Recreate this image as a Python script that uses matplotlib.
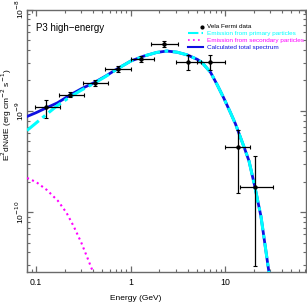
import numpy as np
import matplotlib
matplotlib.use("Agg")
import matplotlib.pyplot as plt
from matplotlib.lines import Line2D

plt.rcParams["font.family"] = ["Liberation Sans", "DejaVu Sans"]

# Vela Fermi data points (GeV, erg cm^-2 s^-1)
data_e = [0.128, 0.23, 0.418, 0.73, 1.29, 2.27, 4.05, 6.97, 13.6, 20.6]
data_lo_e = [0.098, 0.174, 0.31, 0.54, 1.0, 1.64, 3.0, 5.0, 9.9, 14.4]
data_hi_e = [0.178, 0.319, 0.575, 1.0, 1.78, 3.16, 5.6, 10.0, 18.2, 32.2]
data_f = [1.08e-9, 1.45e-9, 1.87e-9, 2.6e-9, 3.23e-9, 4.55e-9, 3.05e-9, 3.05e-9, 4.4e-10, 1.77e-10]
data_lo_f = [8.5e-10, 1.36e-9, 1.75e-9, 2.4e-9, 3.03e-9, 4.24e-9, 2.55e-9, 2.55e-9, 1.55e-10, 2.9e-11]
data_hi_f = [1.28e-9, 1.54e-9, 2.0e-9, 2.8e-9, 3.45e-9, 4.87e-9, 3.6e-9, 3.6e-9, 6.5e-10, 3.55e-10]

# model curves
total_e = [0.08, 0.1, 0.128, 0.168, 0.23, 0.3, 0.41, 0.55, 0.72, 1.0, 1.37, 1.89, 2.42,
           3.1, 3.98, 5.1, 5.74, 7.02, 8.27, 9.71, 11.4, 12.9, 14.3, 16.0, 17.9, 20.6,
           24.0, 29.1]
total_f = [8.8e-10, 9.6e-10, 1.07e-9, 1.2e-9, 1.44e-9, 1.65e-9, 1.9e-9, 2.22e-9, 2.6e-9,
           3.1e-9, 3.47e-9, 3.78e-9, 3.9e-9, 3.8e-9, 3.57e-9, 3.22e-9, 2.98e-9, 2.4e-9,
           1.8e-9, 1.33e-9, 9.6e-10, 7.4e-10, 5.7e-10, 4.3e-10, 3.2e-10, 1.8e-10,
           9.0e-11, 2.55e-11]
prim_e = total_e
prim_f = [6.4e-10, 7.6e-10, 9.2e-10, 1.13e-9, 1.38e-9, 1.6e-9, 1.87e-9, 2.2e-9, 2.59e-9,
          3.1e-9, 3.47e-9, 3.78e-9, 3.9e-9, 3.8e-9, 3.57e-9, 3.22e-9, 2.98e-9, 2.4e-9,
          1.8e-9, 1.33e-9, 9.6e-10, 7.4e-10, 5.7e-10, 4.3e-10, 3.2e-10, 1.8e-10,
          9.0e-11, 2.55e-11]
sec_e = [0.08, 0.1, 0.13, 0.17, 0.21, 0.25, 0.3, 0.35, 0.4]
sec_f = [2.17e-10, 1.98e-10, 1.65e-10, 1.29e-10, 9.8e-11, 7.2e-11, 5.0e-11, 3.5e-11, 2.55e-11]

blue = "#1010e0"
fig = plt.figure(figsize=(3.07, 3.02), dpi=100)
ax = fig.add_axes([0.088, 0.099, 0.909, 0.869])

ax.plot(total_e, total_f, color=blue, lw=2.0, zorder=3)
ax.plot(prim_e, prim_f, color="cyan", lw=2.2, dashes=(5, 1.5, 1.2, 1.5), zorder=4)
ax.plot(sec_e, sec_f, color="magenta", lw=1.5, ls=(0, (1, 1.6)), zorder=3)

e = np.array(data_e)
f = np.array(data_f)
xerr = [e - np.array(data_lo_e), np.array(data_hi_e) - e]
yerr = [f - np.array(data_lo_f), np.array(data_hi_f) - f]
ax.errorbar(e, f, xerr=xerr, yerr=yerr, fmt="o", color="black", ms=2.2,
            elinewidth=0.9, capsize=1.2, capthick=0.8, zorder=5)

ax.set_xscale("log")
ax.set_yscale("log")
ax.set_xlim(0.08, 72)
ax.set_ylim(2.55e-11, 1e-8)
ax.set_xticks([0.1, 1, 10])
ax.set_xticklabels(["0.1", "1", "10"])
ax.set_yticks([1e-10, 1e-9, 1e-8])
ax.set_yticklabels(["10$^{-10}$", "10$^{-9}$", "10$^{-8}$"])

frame = "#6a6a6a"
for s in ax.spines.values():
    s.set_color(frame)
    s.set_linewidth(1.0)
ax.tick_params(which="both", direction="in", top=True, right=True, color=frame)
ax.tick_params(axis="x", pad=4, labelsize=6.3)
ax.tick_params(axis="y", pad=0.5, labelrotation=90, labelsize=6)
ax.tick_params(which="major", length=4, width=0.9)
ax.tick_params(which="minor", length=2, width=0.8)
for lab in ax.get_yticklabels():
    lab.set_va("center")

ax.set_xlabel("Energy (GeV)", fontsize=6)
ax.xaxis.set_label_coords(0.39, -0.088)
ax.set_ylabel("E$^2$dN/dE (erg cm$^{-2}$ s$^{-1}$)", fontsize=6)
ax.yaxis.set_label_coords(-0.048, 0.6)

ax.text(0.032, 0.929, "P3 high\u2212energy", transform=ax.transAxes, fontsize=7,
        ha="left", va="center")

handles = [
    Line2D([], [], color="none"),
    Line2D([], [], color="cyan", lw=1.5, dashes=(5, 1.5, 1.2, 1.5)),
    Line2D([], [], color="magenta", lw=1.2, ls=(0, (1, 2))),
    Line2D([], [], color=blue, lw=1.5),
]
labels = ["Vela Fermi data", "Emission from primary particles",
          "Emission from secondary particles", "Calculated total spectrum"]
leg = ax.legend(handles, labels, loc="upper right", bbox_to_anchor=(1.0, 0.954),
                frameon=False, fontsize=4.6, labelspacing=0.25, handlelength=2.4,
                handletextpad=0.6, borderaxespad=0.2, borderpad=0.1)
for txt, col in zip(leg.get_texts(), ["black", "cyan", "magenta", blue]):
    txt.set_color(col)

# data marker sits just left of its legend label
fig.canvas.draw()
bb = leg.get_texts()[0].get_window_extent()
mx, my = fig.transFigure.inverted().transform((bb.x0 - 5, (bb.y0 + bb.y1) / 2))
fig.add_artist(Line2D([mx], [my], marker="o", ms=2, color="black",
                      transform=fig.transFigure))

fig.savefig("out.png", dpi=100)
